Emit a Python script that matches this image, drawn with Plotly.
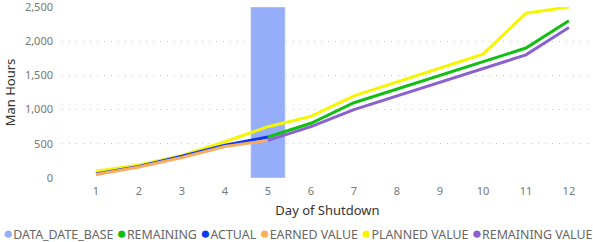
import plotly.graph_objects as go

days = list(range(1, 13))
data_date_base_day = [5]
data_date_base_val = [2500]
actual_days = [1, 2, 3, 4, 5]
actual = [60, 170, 320, 480, 600]
earned_value = [50, 160, 300, 460, 550]
planned_value = [100, 190, 330, 530, 750, 900, 1200, 1400, 1600, 1810, 2410, 2500]
remaining_days = [5, 6, 7, 8, 9, 10, 11, 12]
remaining = [600, 800, 1100, 1300, 1500, 1700, 1900, 2300]
remaining_value = [550, 750, 1000, 1200, 1400, 1600, 1800, 2200]
y_ticks = [0, 500, 1000, 1500, 2000, 2500]

C_BASE = "#96AEFA"
C_REM = "#12BE12"
C_ACT = "#0A3AF0"
C_EV = "#F9AC5C"
C_PV = "#F6F600"
C_RV = "#8B61CF"

FONT = "Noto Sans"

fig = go.Figure()
fig.add_trace(go.Bar(x=data_date_base_day, y=data_date_base_val, marker_color=C_BASE,
                     width=0.8, showlegend=False))
lw = 3
fig.add_trace(go.Scatter(x=days, y=planned_value, mode="lines", line=dict(color=C_PV, width=lw), showlegend=False, cliponaxis=False))
fig.add_trace(go.Scatter(x=remaining_days, y=remaining, mode="lines", line=dict(color=C_REM, width=lw), showlegend=False, cliponaxis=False))
fig.add_trace(go.Scatter(x=remaining_days, y=remaining_value, mode="lines", line=dict(color=C_RV, width=lw), showlegend=False, cliponaxis=False))
fig.add_trace(go.Scatter(x=actual_days, y=actual, mode="lines", line=dict(color=C_ACT, width=lw), showlegend=False, cliponaxis=False))
fig.add_trace(go.Scatter(x=actual_days, y=earned_value, mode="lines", line=dict(color=C_EV, width=lw), showlegend=False, cliponaxis=False))

legend_items = [("DATA_DATE_BASE", C_BASE), ("REMAINING", C_REM), ("ACTUAL", C_ACT),
                ("EARNED VALUE", C_EV), ("PLANNED VALUE", C_PV), ("REMAINING VALUE", C_RV)]
legend_text = "&nbsp;".join(
    f"<span style='color:{c};font-size:17px'>●</span><span style='color:#666666'>{n}</span>"
    for n, c in legend_items)

fig.add_annotation(text=legend_text, xref="paper", yref="paper", x=-61/531, y=-54/171,
                   xanchor="left", yanchor="middle", showarrow=False,
                   font=dict(family=FONT, size=12.4, color="#666666"))

fig.update_layout(
    width=593, height=242,
    margin=dict(l=62, r=0, t=7, b=64),
    paper_bgcolor="white", plot_bgcolor="white",
    font=dict(family=FONT, size=11, color="#777777"),
    xaxis=dict(range=[0.21, 12.56], tickmode="array", tickvals=days, showgrid=False,
               zeroline=False, showline=False, ticks="", automargin=False, ticklabelstandoff=5,
               title=dict(text="Day of Shutdown", font=dict(size=13, color="#333333"), standoff=8),
               tickfont=dict(size=11, color="#777777")),
    yaxis=dict(range=[0, 2500], tickvals=y_ticks, tickformat=",", showgrid=True,
               gridcolor="#C8C8C8", griddash="1px,6px", gridwidth=1, zeroline=False,
               ticks="", ticklabelstandoff=8, automargin=False, ticklabeloverflow="allow",
               title=dict(text="Man Hours", font=dict(size=13, color="#333333"), standoff=6),
               tickfont=dict(size=11, color="#777777")),
    showlegend=False,
)

fig.write_html("out.html", config={"displayModeBar": False},
               post_script="document.body.style.margin='0';document.body.style.overflow='hidden';")
